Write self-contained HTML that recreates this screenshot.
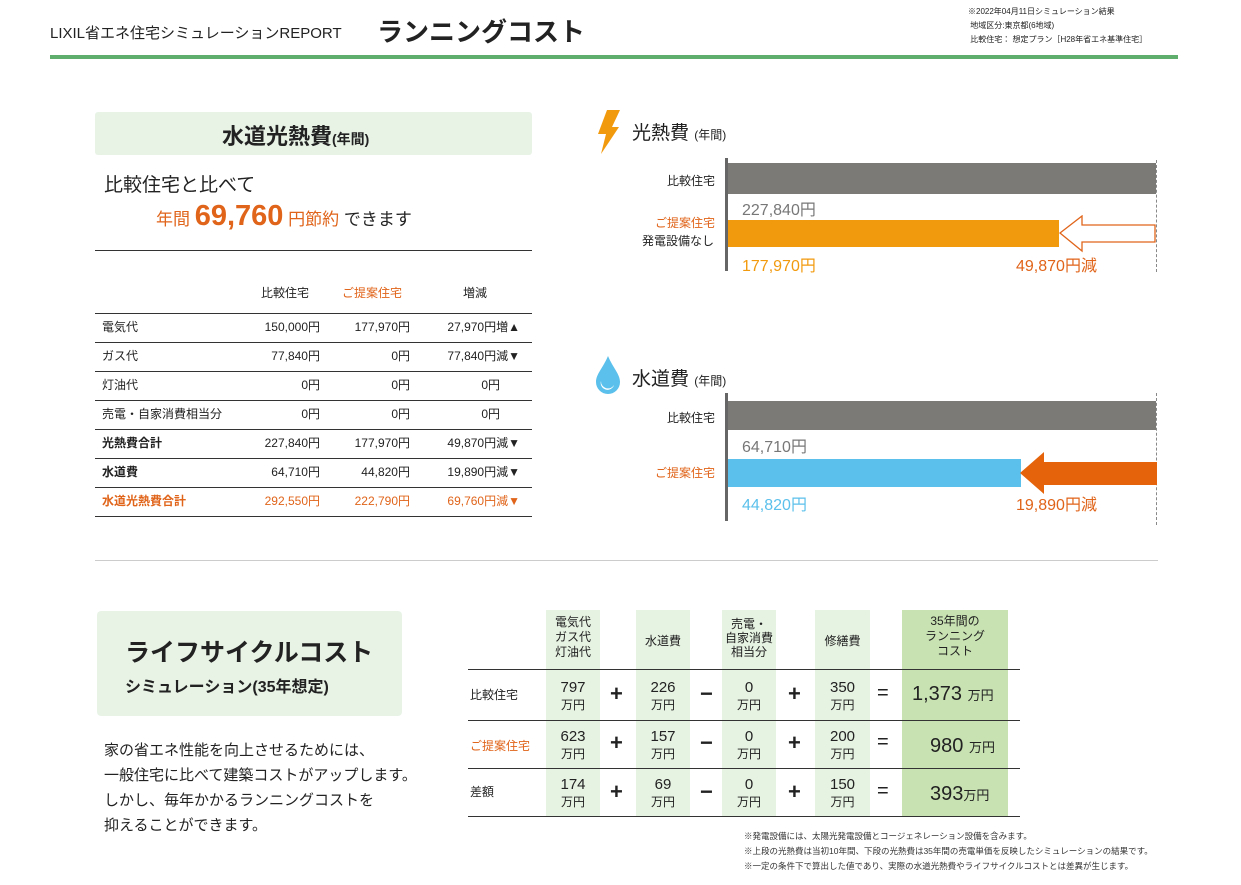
<!DOCTYPE html><html><head><meta charset="utf-8"><style>
body{margin:0;width:1241px;height:885px;background:#fff;position:relative;overflow:hidden;font-family:"Liberation Sans","Noto Sans CJK JP",sans-serif;color:#222}
.a{position:absolute;white-space:nowrap}
.hl{position:absolute;height:1px;background:#333}
.r{text-align:right}
.o{color:#e0641a}
.t{font-size:12px}
</style></head><body>
<div class="a" style="left:50px;top:22px;font-size:15px">LIXIL省エネ住宅シミュレーションREPORT</div>
<div class="a" style="left:377px;top:12px;font-size:26px;font-weight:bold">ランニングコスト</div>
<div class="a" style="left:968px;top:5px;font-size:8px;line-height:14px">※2022年04月11日シミュレーション結果<br>&nbsp;地域区分:東京都(6地域)<br>&nbsp;比較住宅： 想定プラン［H28年省エネ基準住宅］</div>
<div class="a" style="left:50px;top:55px;width:1128px;height:4px;background:#5fae6e"></div>

<div class="a" style="left:95px;top:112px;width:437px;height:43px;background:#e8f3e6;border-radius:3px"></div>
<div class="a" style="left:222px;top:119px;font-size:22px;font-weight:bold">水道光熱費<span style="font-size:14px">(年間)</span></div>
<div class="a" style="left:104px;top:170px;font-size:19px">比較住宅と比べて</div>
<div class="a" style="left:156px;top:200px;font-size:17px"><span class="o">年間 <b style="font-size:29px">69,760</b> 円節約</span> できます</div>
<div class="hl" style="left:95px;top:250px;width:437px"></div>
<div class="a t" style="left:261px;top:284px">比較住宅</div>
<div class="a t o" style="left:342px;top:284px">ご提案住宅</div>
<div class="a t" style="left:463px;top:284px">増減</div>
<div class="hl" style="left:95px;top:313px;width:437px"></div>
<div class="hl" style="left:95px;top:342px;width:437px"></div>
<div class="hl" style="left:95px;top:371px;width:437px"></div>
<div class="hl" style="left:95px;top:400px;width:437px"></div>
<div class="hl" style="left:95px;top:429px;width:437px"></div>
<div class="hl" style="left:95px;top:458px;width:437px"></div>
<div class="hl" style="left:95px;top:487px;width:437px"></div>
<div class="hl" style="left:95px;top:516px;width:437px"></div>
<div class="a t" style="left:102px;top:313px;line-height:29px">電気代<br>ガス代<br>灯油代<br>売電・自家消費相当分<br><b>光熱費合計</b><br><b>水道費</b><br><b class="o">水道光熱費合計</b></div>
<div class="a t r" style="left:220px;width:100px;top:313px;line-height:29px">150,000円<br>77,840円<br>0円<br>0円<br>227,840円<br>64,710円<br><span class="o">292,550円</span></div>
<div class="a t r" style="left:310px;width:100px;top:313px;line-height:29px">177,970円<br>0円<br>0円<br>0円<br>177,970円<br>44,820円<br><span class="o">222,790円</span></div>
<div class="a t" style="left:420px;width:100px;top:313px;line-height:29px;text-align:right">27,970円増▲<br>77,840円減▼<br>0円&nbsp;&nbsp;&nbsp;&nbsp;&nbsp;&nbsp;<br>0円&nbsp;&nbsp;&nbsp;&nbsp;&nbsp;&nbsp;<br>49,870円減▼<br>19,890円減▼<br><span class="o">69,760円減▼</span></div>

<svg class="a" style="left:595px;top:110px" width="30" height="44"><polygon points="12,0 25,0 17,17 24,17 6,44 11,24 3,24" fill="#f29a0e"/></svg>
<div class="a" style="left:632px;top:118px;font-size:19px">光熱費 <span style="font-size:12px">(年間)</span></div>
<div class="a" style="left:725px;top:158px;width:3px;height:113px;background:#666"></div>
<div class="a" style="left:728px;top:163px;width:428px;height:31px;background:#7b7a76"></div>
<div class="a" style="left:1156px;top:160px;height:112px;border-left:1px dashed #888"></div>
<div class="a t" style="left:667px;top:172px">比較住宅</div>
<div class="a" style="left:742px;top:196px;font-size:16px;color:#777">227,840円</div>
<div class="a t o" style="left:655px;top:214px">ご提案住宅</div>
<div class="a t" style="left:642px;top:232px">発電設備なし</div>
<div class="a" style="left:728px;top:220px;width:331px;height:27px;background:#f29a0e"></div>
<svg class="a" style="left:1058px;top:215px" width="100" height="40"><polygon points="2,18 24,1 24,10 97,10 97,27 24,27 24,36" fill="#fff" stroke="#e0641a" stroke-width="1.3"/></svg>
<div class="a" style="left:742px;top:252px;font-size:16px;color:#f29a0e">177,970円</div>
<div class="a" style="left:1016px;top:252px;font-size:16px;color:#e0641a">49,870円減</div>

<svg class="a" style="left:595px;top:356px" width="26" height="38"><path d="M13,0 C18,12 25,18 25,26 A12,12 0 0 1 1,26 C1,18 8,12 13,0Z" fill="#5bc0eb"/><path d="M6,25 A7,7 0 0 0 19,29 A6,6 0 0 1 6,25Z" fill="#fff"/></svg>
<div class="a" style="left:632px;top:364px;font-size:19px">水道費 <span style="font-size:12px">(年間)</span></div>
<div class="a" style="left:725px;top:393px;width:3px;height:128px;background:#666"></div>
<div class="a" style="left:728px;top:401px;width:428px;height:29px;background:#7b7a76"></div>
<div class="a" style="left:1156px;top:393px;height:132px;border-left:1px dashed #888"></div>
<div class="a t" style="left:667px;top:409px">比較住宅</div>
<div class="a" style="left:742px;top:433px;font-size:16px;color:#777">64,710円</div>
<div class="a t o" style="left:655px;top:464px">ご提案住宅</div>
<div class="a" style="left:728px;top:459px;width:293px;height:28px;background:#5bc0eb"></div>
<svg class="a" style="left:1020px;top:452px" width="137" height="42"><polygon points="0,21 24,0 24,10 137,10 137,33 24,33 24,42" fill="#e4630b"/></svg>
<div class="a" style="left:742px;top:491px;font-size:16px;color:#5bc0eb">44,820円</div>
<div class="a" style="left:1016px;top:491px;font-size:16px;color:#e0641a">19,890円減</div>

<div class="a" style="left:95px;top:560px;width:1063px;height:1px;background:#ccc"></div>

<div class="a" style="left:97px;top:611px;width:305px;height:105px;background:#e8f3e6;border-radius:4px"></div>
<div class="a" style="left:125px;top:633px;font-size:25px;font-weight:bold">ライフサイクルコスト</div>
<div class="a" style="left:125px;top:673px;font-size:16px;font-weight:bold">シミュレーション(35年想定)</div>
<div class="a" style="left:104px;top:738px;font-size:15px;line-height:25px">家の省エネ性能を向上させるためには、<br>一般住宅に比べて建築コストがアップします。<br>しかし、毎年かかるランニングコストを<br>抑えることができます。</div>

<div class="a" style="left:546px;top:610px;width:54px;height:206px;background:#e6f2e2"></div>
<div class="a" style="left:636px;top:610px;width:54px;height:206px;background:#e6f2e2"></div>
<div class="a" style="left:722px;top:610px;width:54px;height:206px;background:#e6f2e2"></div>
<div class="a" style="left:815px;top:610px;width:55px;height:206px;background:#e6f2e2"></div>
<div class="a" style="left:902px;top:610px;width:106px;height:206px;background:#c8e2b2"></div>
<div class="hl" style="left:468px;top:669px;width:552px"></div>
<div class="hl" style="left:468px;top:720px;width:552px"></div>
<div class="hl" style="left:468px;top:768px;width:552px"></div>
<div class="hl" style="left:468px;top:816px;width:552px"></div>
<div class="a t" style="left:546px;width:54px;top:615px;text-align:center;line-height:15px">電気代<br>ガス代<br>灯油代</div>
<div class="a t" style="left:636px;width:54px;top:632px;text-align:center">水道費</div>
<div class="a t" style="left:722px;width:54px;top:617px;text-align:center;line-height:14px">売電・<br>自家消費<br>相当分</div>
<div class="a t" style="left:815px;width:55px;top:632px;text-align:center">修繕費</div>
<div class="a t" style="left:902px;width:106px;top:614px;text-align:center;line-height:15px">35年間の<br>ランニング<br>コスト</div>
<div class="a t" style="left:470px;top:686px">比較住宅</div>
<div class="a t o" style="left:470px;top:737px">ご提案住宅</div>
<div class="a t" style="left:470px;top:783px">差額</div>
<div class="a" style="left:546px;width:54px;top:679px;text-align:center;font-size:15px;line-height:17px">797<br><span style="font-size:12px">万円</span></div>
<div class="a" style="left:636px;width:54px;top:679px;text-align:center;font-size:15px;line-height:17px">226<br><span style="font-size:12px">万円</span></div>
<div class="a" style="left:722px;width:54px;top:679px;text-align:center;font-size:15px;line-height:17px">0<br><span style="font-size:12px">万円</span></div>
<div class="a" style="left:815px;width:55px;top:679px;text-align:center;font-size:15px;line-height:17px">350<br><span style="font-size:12px">万円</span></div>
<div class="a" style="left:546px;width:54px;top:728px;text-align:center;font-size:15px;line-height:17px">623<br><span style="font-size:12px">万円</span></div>
<div class="a" style="left:636px;width:54px;top:728px;text-align:center;font-size:15px;line-height:17px">157<br><span style="font-size:12px">万円</span></div>
<div class="a" style="left:722px;width:54px;top:728px;text-align:center;font-size:15px;line-height:17px">0<br><span style="font-size:12px">万円</span></div>
<div class="a" style="left:815px;width:55px;top:728px;text-align:center;font-size:15px;line-height:17px">200<br><span style="font-size:12px">万円</span></div>
<div class="a" style="left:546px;width:54px;top:776px;text-align:center;font-size:15px;line-height:17px">174<br><span style="font-size:12px">万円</span></div>
<div class="a" style="left:636px;width:54px;top:776px;text-align:center;font-size:15px;line-height:17px">69<br><span style="font-size:12px">万円</span></div>
<div class="a" style="left:722px;width:54px;top:776px;text-align:center;font-size:15px;line-height:17px">0<br><span style="font-size:12px">万円</span></div>
<div class="a" style="left:815px;width:55px;top:776px;text-align:center;font-size:15px;line-height:17px">150<br><span style="font-size:12px">万円</span></div>
<div class="a" style="left:610px;top:669px;font-size:22px;font-weight:bold;line-height:49px">+<br>+<br>+</div>
<div class="a" style="left:700px;top:669px;font-size:22px;font-weight:bold;line-height:49px">−<br>−<br>−</div>
<div class="a" style="left:788px;top:669px;font-size:22px;font-weight:bold;line-height:49px">+<br>+<br>+</div>
<div class="a" style="left:877px;top:669px;font-size:20px;line-height:49px">=<br>=<br>=</div>
<div class="a" style="left:912px;top:683px;font-size:20px">1,373 <span style="font-size:13px">万円</span></div>
<div class="a" style="left:930px;top:735px;font-size:20px">980 <span style="font-size:13px">万円</span></div>
<div class="a" style="left:930px;top:783px;font-size:20px">393<span style="font-size:13px">万円</span></div>
<div class="a" style="left:744px;top:829px;font-size:8.5px;line-height:15px;color:#333">※発電設備には、太陽光発電設備とコージェネレーション設備を含みます。<br>※上段の光熱費は当初10年間、下段の光熱費は35年間の売電単価を反映したシミュレーションの結果です。<br>※一定の条件下で算出した値であり、実際の水道光熱費やライフサイクルコストとは差異が生じます。</div>
</body></html>
